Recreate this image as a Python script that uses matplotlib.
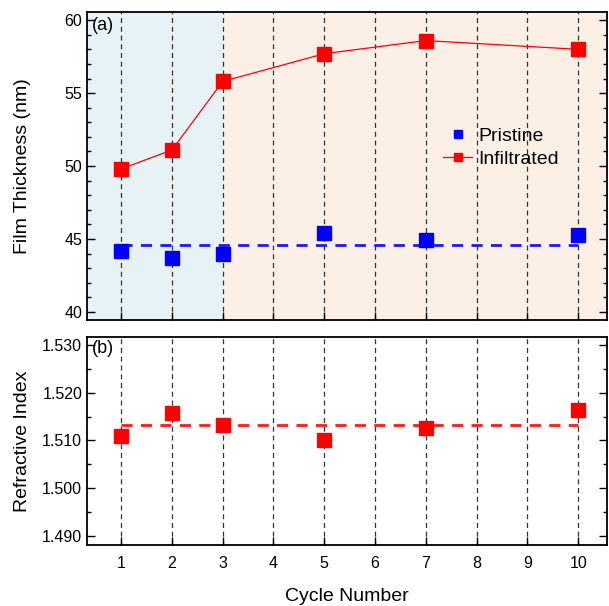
import numpy as np
import matplotlib
matplotlib.use("Agg")
import matplotlib.pyplot as plt

plt.rcParams['font.family'] = ['Liberation Sans', 'DejaVu Sans']

# data
cycles = [1, 2, 3, 5, 7, 10]
pristine_nm = [44.2, 43.7, 44.0, 45.4, 44.9, 45.3]
infiltrated_nm = [49.8, 51.1, 55.8, 57.7, 58.6, 58.0]
refr_index = [1.5110, 1.5158, 1.5132, 1.5101, 1.5126, 1.5164]
pristine_mean = 44.6
refr_mean = 1.5132
tick_cycles = list(range(1, 11))

fig = plt.figure(figsize=(6.09, 6.06), dpi=100)
ax_a = fig.add_axes([0.143, 0.472, 0.854, 0.508])
ax_b = fig.add_axes([0.143, 0.101, 0.854, 0.343])

xlo, xhi = 0.33, 10.57

for ax in (ax_a, ax_b):
    ax.set_xlim(xlo, xhi)
    for c in tick_cycles:
        ax.axvline(c, color='#333333', lw=0.9, ls=(0, (4, 3)), zorder=1)
    ax.set_xticks(tick_cycles)
    ax.tick_params(axis='both', which='both', direction='in', labelsize=11.5,
                   right=True, width=1.0)
    ax.tick_params(which='major', length=6)
    ax.tick_params(which='minor', length=3)
    for s in ax.spines.values():
        s.set_linewidth(1.3)

# (a) film thickness
ax_a.axvspan(xlo, 3, color='#e6f2f5', zorder=0, lw=0)
ax_a.axvspan(3, xhi, color='#fcefe6', zorder=0, lw=0)
ax_a.plot([1, 10], [pristine_mean, pristine_mean], color='#1a1aff', lw=2.0,
          ls=(0, (4, 3)), zorder=2)
ax_a.plot(cycles, pristine_nm, ls='none', marker='s', ms=10, color='#0000ff',
          mec='#0000ff', label='Pristine', zorder=3)
ax_a.plot(cycles, infiltrated_nm, ls='-', lw=0.9, marker='s', ms=10,
          color='#ff0000', mec='#ff0000', label='Infiltrated', zorder=3)
ax_a.set_ylim(39.45, 60.55)
ax_a.set_yticks([40, 45, 50, 55, 60])
ax_a.set_yticks(np.arange(40, 60.1, 1), minor=True)
ax_a.tick_params(labelbottom=False)
ax_a.set_ylabel('Film Thickness (nm)', fontsize=14)
ax_a.yaxis.set_label_coords(-0.107, 0.5)
ax_a.text(0.01, 0.985, '(a)', transform=ax_a.transAxes, fontsize=13,
          va='top', ha='left')
ax_a.legend(loc='upper left', bbox_to_anchor=(0.67, 0.65), frameon=False,
            fontsize=14, handlelength=1.5, handletextpad=0.3, markerscale=0.6,
            borderaxespad=0, labelspacing=0.25)

# (b) refractive index
ax_b.plot([1, 10], [refr_mean, refr_mean], color='#ff1a1a', lw=2.0,
          ls=(0, (4, 3)), zorder=2)
ax_b.plot(cycles, refr_index, ls='none', marker='s', ms=10, color='#ff0000',
          mec='#ff0000', zorder=3)
ax_b.set_ylim(1.4881, 1.5317)
ax_b.set_yticks([1.49, 1.50, 1.51, 1.52, 1.53])
ax_b.set_yticks(np.arange(1.49, 1.5301, 0.005), minor=True)
ax_b.set_yticklabels(['1.490', '1.500', '1.510', '1.520', '1.530'])
ax_b.set_ylabel('Refractive Index', fontsize=14)
ax_b.yaxis.set_label_coords(-0.107, 0.5)
ax_b.set_xlabel('Cycle Number', fontsize=14, labelpad=12)
ax_b.tick_params(axis='x', pad=8)
ax_b.text(0.01, 0.985, '(b)', transform=ax_b.transAxes, fontsize=13,
          va='top', ha='left')

fig.savefig('out.png', dpi=100)
